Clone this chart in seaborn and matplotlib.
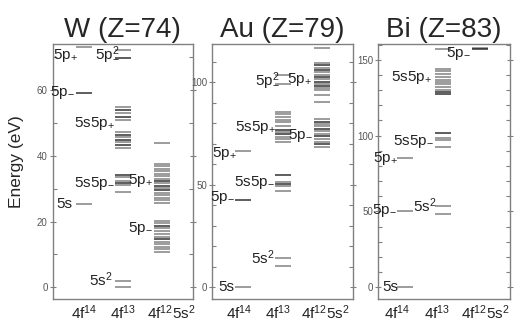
import matplotlib
matplotlib.use("Agg")
import matplotlib.pyplot as plt
from matplotlib.ticker import MultipleLocator
import pandas as pd
import seaborn as sns

sns.set_style("white")
plt.rcParams['font.family'] = ['Liberation Sans', 'DejaVu Sans']
plt.rcParams['mathtext.default'] = 'regular'

configs = ['4f$^{14}$', '4f$^{13}$', '4f$^{12}$5s$^{2}$']

# level energies (eV), repeated values = near-degenerate levels (drawn darker)
w_4f14 = [73.0, 59.0, 59.0, 25.2]
w_4f13 = [72.0, 69.5, 69.5,
          54.8, 53.8, 53.8, 52.8, 51.6, 51.6, 50.8,
          47.2, 46.4, 46.4, 45.6, 44.8, 44.8, 44.0, 43.2, 43.2, 42.4,
          34.0, 34.0, 33.4, 32.2, 31.6, 31.6, 31.0, 28.9,
          2.1, 0.0]
w_4f12 = [43.7,
          37.5, 36.8, 36.0, 35.2, 34.5, 33.8, 33.0, 32.3, 32.3, 31.6, 30.9, 30.9,
          30.2, 29.5, 29.5, 28.8, 28.0, 27.2, 26.4, 25.5,
          20.3, 19.6, 18.8, 18.8, 18.0, 17.0, 16.2, 15.4, 14.6, 14.6, 13.9,
          13.2, 12.4, 11.7, 10.9]

au_4f14 = [66.4, 42.5, 42.5, 0.0]
au_4f13 = [103.7, 99.4,
           85.5, 84.4, 83.1, 81.8, 80.7, 78.6, 77.0, 77.0, 75.8, 74.7, 74.7,
           73.4, 72.3, 70.9,
           54.7, 54.7, 51.4, 50.5, 50.5, 49.5, 47.1,
           14.1, 10.4]
au_4f12 = [116.9,
           109.4, 108.3, 108.3, 107.2, 106.0, 106.0, 104.9, 103.8, 102.6, 102.6,
           101.5, 100.4, 100.4, 99.2, 98.1, 98.1, 97.0, 96.2, 94.0, 90.4,
           82.0, 80.9, 80.9, 79.7, 78.6, 77.4, 77.4, 76.3, 75.0, 73.7, 73.7,
           72.4, 70.9, 69.8, 69.8, 68.5]

bi_4f14 = [85.5, 50.4, 0.0]
bi_4f13 = [157.2,
           144.0, 142.5, 140.8, 138.6, 136.8, 135.3, 133.7, 132.0, 129.8,
           128.7, 128.7, 127.6, 127.6,
           102.0, 102.0, 98.7, 96.9, 92.5,
           53.5, 48.2]
bi_4f12 = [157.5, 156.8, 156.8]

# level labels: text, x position, energy
w_labels = [('5p$_{+}$', 0.85, 70.5), ('5p$_{-}^{2}$', 1.90, 70.8),
            ('5p$_{-}$', 0.77, 59.3), ('5s5p$_{+}$', 1.79, 49.9),
            ('5s5p$_{-}$', 1.79, 31.7), ('5p$_{+}$', 2.77, 32.5),
            ('5s', 0.69, 25.4), ('5p$_{-}$', 2.77, 17.9),
            ('5s$^{2}$', 1.74, 2.3)]
au_labels = [('5p$_{-}^{2}$', 1.93, 101.0), ('5p$_{+}$', 2.75, 101.3),
             ('5s5p$_{+}$', 1.83, 78.0), ('5p$_{-}$', 2.77, 74.2),
             ('5p$_{+}$', 0.83, 65.3), ('5s5p$_{-}$', 1.80, 51.0),
             ('5p$_{-}$', 0.78, 44.0), ('5s$^{2}$', 1.80, 14.3),
             ('5s', 0.78, 0.0)]
bi_labels = [('5p$_{-}$', 2.76, 154.0), ('5s5p$_{+}$', 1.72, 138.6),
             ('5s5p$_{-}$', 1.77, 95.8), ('5p$_{+}$', 0.81, 84.9),
             ('5p$_{-}$', 0.79, 50.9), ('5s$^{2}$', 1.85, 53.5),
             ('5s', 0.81, 0.4)]

panels = [
    dict(title='W (Z=74)', levels=[w_4f14, w_4f13, w_4f12], labels=w_labels,
         rect=[0.102, 0.0734, 0.2728, 0.7904], xlim=(0.19, 3.79), ylim=(-3.6, 73.9),
         major=20, ticks=[1.0, 2.0, 3.23], size=133),
    dict(title='Au (Z=79)', levels=[au_4f14, au_4f13, au_4f12], labels=au_labels,
         rect=[0.4117, 0.0734, 0.2738, 0.7904], xlim=(0.2, 3.79), ylim=(-5.8, 118.7),
         major=50, ticks=[0.9, 1.87, 3.08], size=133),
    dict(title='Bi (Z=83)', levels=[bi_4f14, bi_4f13, bi_4f12], labels=bi_labels,
         rect=[0.734, 0.0734, 0.2563, 0.7904], xlim=(0.28, 3.8), ylim=(-7.9, 160.4),
         major=50, ticks=[0.79, 1.85, 3.13], size=117),
]

fig = plt.figure(figsize=(5.15, 3.23), dpi=100)

for p in panels:
    ax = fig.add_axes(p['rect'])
    rows = []
    for i, lev in enumerate(p['levels']):
        for e in lev:
            rows.append({'col': i + 1, 'energy': e})
    df = pd.DataFrame(rows)
    sns.scatterplot(data=df, x='col', y='energy', marker='_', s=p['size'],
                    color='black', alpha=0.42, linewidth=1.3, ax=ax, legend=False)
    for txt, x, e in p['labels']:
        ax.text(x, e, txt, ha='right', va='center', fontsize=11, color='#222222')
    ax.set_xlim(*p['xlim'])
    ax.set_ylim(*p['ylim'])
    ax.set_xticks(p['ticks'])
    ax.set_xticklabels(configs)
    ax.yaxis.set_major_locator(MultipleLocator(p['major']))
    ax.yaxis.set_minor_locator(MultipleLocator(10))
    ax.tick_params(axis='x', length=0, pad=3, labelsize=11, labelcolor='#222222')
    ax.tick_params(axis='y', which='major', direction='inout', length=5, width=0.8,
                   left=True, right=True, color='#808080', labelsize=7,
                   labelcolor='#555555', pad=1)
    ax.tick_params(axis='y', which='minor', direction='in', length=3, width=0.8,
                   left=True, right=True, color='#808080')
    for sp in ax.spines.values():
        sp.set_visible(True)
        sp.set_color('#808080')
        sp.set_linewidth(1.0)
    ax.set_xlabel('')
    ax.set_ylabel('')
    ax.set_title(p['title'], fontsize=20, pad=5)
    if p['title'].startswith('W'):
        ax.set_ylabel('Energy (eV)', fontsize=12.5)
        ax.yaxis.set_label_coords(-0.2, 0.54)

fig.savefig('out.png', dpi=100)
